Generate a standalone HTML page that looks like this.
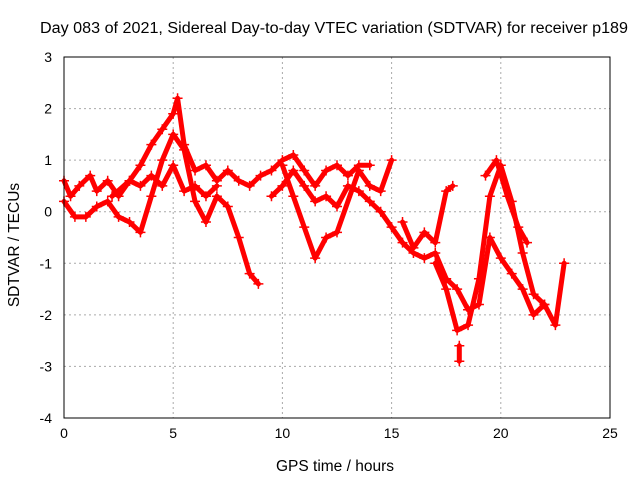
<!DOCTYPE html>
<html><head><meta charset="utf-8"><style>
body{margin:0;background:#fff}
svg{font-family:"Liberation Sans",sans-serif;font-size:14px}
</style></head><body>
<svg id="c" width="640" height="480">
<rect width="640" height="480" fill="#fff"/>
<text x="40" y="33" textLength="588" lengthAdjust="spacingAndGlyphs" style="font-size:15.5px">Day 083 of 2021, Sidereal Day-to-day VTEC variation (SDTVAR) for receiver p189</text>
<text x="335" y="471" text-anchor="middle" style="font-size:15.5px">GPS time / hours</text>
<text transform="translate(19,245) rotate(-90)" text-anchor="middle" style="font-size:15.5px">SDTVAR / TECUs</text>
<g id="grid"></g><g id="marks"></g>
<rect x="64" y="57" width="546" height="361" fill="none" stroke="#000"/>
</svg>
<script>
const xTicks=[0,5,10,15,20,25];
const yTicks=[-4,-3,-2,-1,0,1,2,3];
const trackA=[[0,0.6],[0.3,0.3],[0.7,0.5],[1.2,0.7],[1.5,0.4],[2,0.6],[2.5,0.3],[3,0.6],[3.5,0.9],[4,1.3],[4.5,1.6],[5,1.9],[5.2,2.2],[5.5,1.3],[6,0.8],[6.5,0.9],[7,0.6],[7.5,0.8],[8,0.6],[8.5,0.5],[9,0.7],[9.5,0.8],[10,1.0],[10.5,1.1],[11,0.8],[11.5,0.5],[12,0.8],[12.5,0.9],[13,0.7],[13.5,0.9],[14,0.9]];
const trackB=[[0,0.2],[0.5,-0.1],[1,-0.1],[1.5,0.1],[2,0.2],[2.5,-0.1],[3,-0.2],[3.5,-0.4],[4,0.3],[4.5,1.0],[5,1.5],[5.5,1.2],[6,0.2],[6.5,-0.2],[7,0.3],[7.5,0.1],[8,-0.5],[8.5,-1.2],[8.9,-1.4]];
const trackC=[[2.2,0.3],[3,0.6],[3.5,0.5],[4,0.7],[4.5,0.5],[5,0.9],[5.5,0.4],[6,0.5],[6.5,0.3],[7,0.5]];
const trackD=[[9.5,0.3],[10,0.5],[10.5,0.8],[11,0.5],[11.5,0.2],[12,0.3],[12.5,0.1],[13,0.5],[13.5,0.4],[14,0.2],[14.5,0.0],[15,-0.3],[15.5,-0.6],[16,-0.8],[16.5,-0.9],[17,-0.8],[17.5,-1.3],[18,-1.5],[18.5,-1.9],[19,-1.8],[19.5,-0.5],[20,-0.9],[20.5,-1.2],[21,-1.5],[21.5,-2.0],[22,-1.8],[22.5,-2.2],[22.9,-1.0]];
const trackE=[[10,0.9],[10.5,0.3],[11,-0.3],[11.5,-0.9],[12,-0.5],[12.5,-0.4],[13.5,0.8],[14,0.5],[14.5,0.4],[15,1.0]];
const trackF=[[15.5,-0.2],[16,-0.7],[16.5,-0.4],[17,-0.6],[17.5,0.4],[17.8,0.5]];
const trackG=[[17,-1.0],[17.5,-1.5],[18,-2.3],[18.5,-2.2],[19,-1.3],[19.5,0.3],[20,0.9],[20.5,0.2],[21,-0.8],[21.5,-1.6],[22,-1.8]];
const trackH=[[19.3,0.7],[19.8,1.0],[20.3,0.3],[20.8,-0.3],[21.2,-0.6]];
const trackI=[[18.1,-2.6],[18.1,-2.9]];
const tracks=[trackA,trackB,trackC,trackD,trackE,trackF,trackG,trackH,trackI];
const xs=v=>64+v*546/25, ys=v=>418-(v+4)*361/7;
const NS='http://www.w3.org/2000/svg';
const svg=document.getElementById('c'),grid=document.getElementById('grid'),marks=document.getElementById('marks');
function mk(tag,attrs,parent){const e=document.createElementNS(NS,tag);for(const k in attrs)e.setAttribute(k,attrs[k]);parent.appendChild(e);return e;}
xTicks.forEach(t=>{
  if(t>0&&t<25){const g=mk('line',{x1:xs(t),x2:xs(t),y1:57,y2:418,stroke:'#aaa','stroke-dasharray':'2,3'},grid);
  
  }
  const l=mk('text',{x:xs(t),y:438,'text-anchor':'middle'},svg);l.textContent=t;
  
  
});
yTicks.forEach(t=>{
  if(t>-4&&t<3){const g=mk('line',{x1:64,x2:610,y1:ys(t),y2:ys(t),stroke:'#aaa','stroke-dasharray':'2,3'},grid);
  
  }
  const l=mk('text',{x:52,y:ys(t)+5,'text-anchor':'end'},svg);l.textContent=t;
  
  
});
tracks.forEach(tr=>{
  const p=mk('polyline',{points:tr.map(d=>xs(d[0])+','+ys(d[1])).join(' '),fill:'none',stroke:'#f00','stroke-width':5,'stroke-linejoin':'round','stroke-linecap':'round'},marks);
  
  
  tr.forEach(d=>{
    const m=mk('path',{d:`M${xs(d[0])-5},${ys(d[1])}h10M${xs(d[0])},${ys(d[1])-5}v10`,stroke:'#f00','stroke-width':1.5},marks);
    
    
  });
});
</script>
</body></html>
